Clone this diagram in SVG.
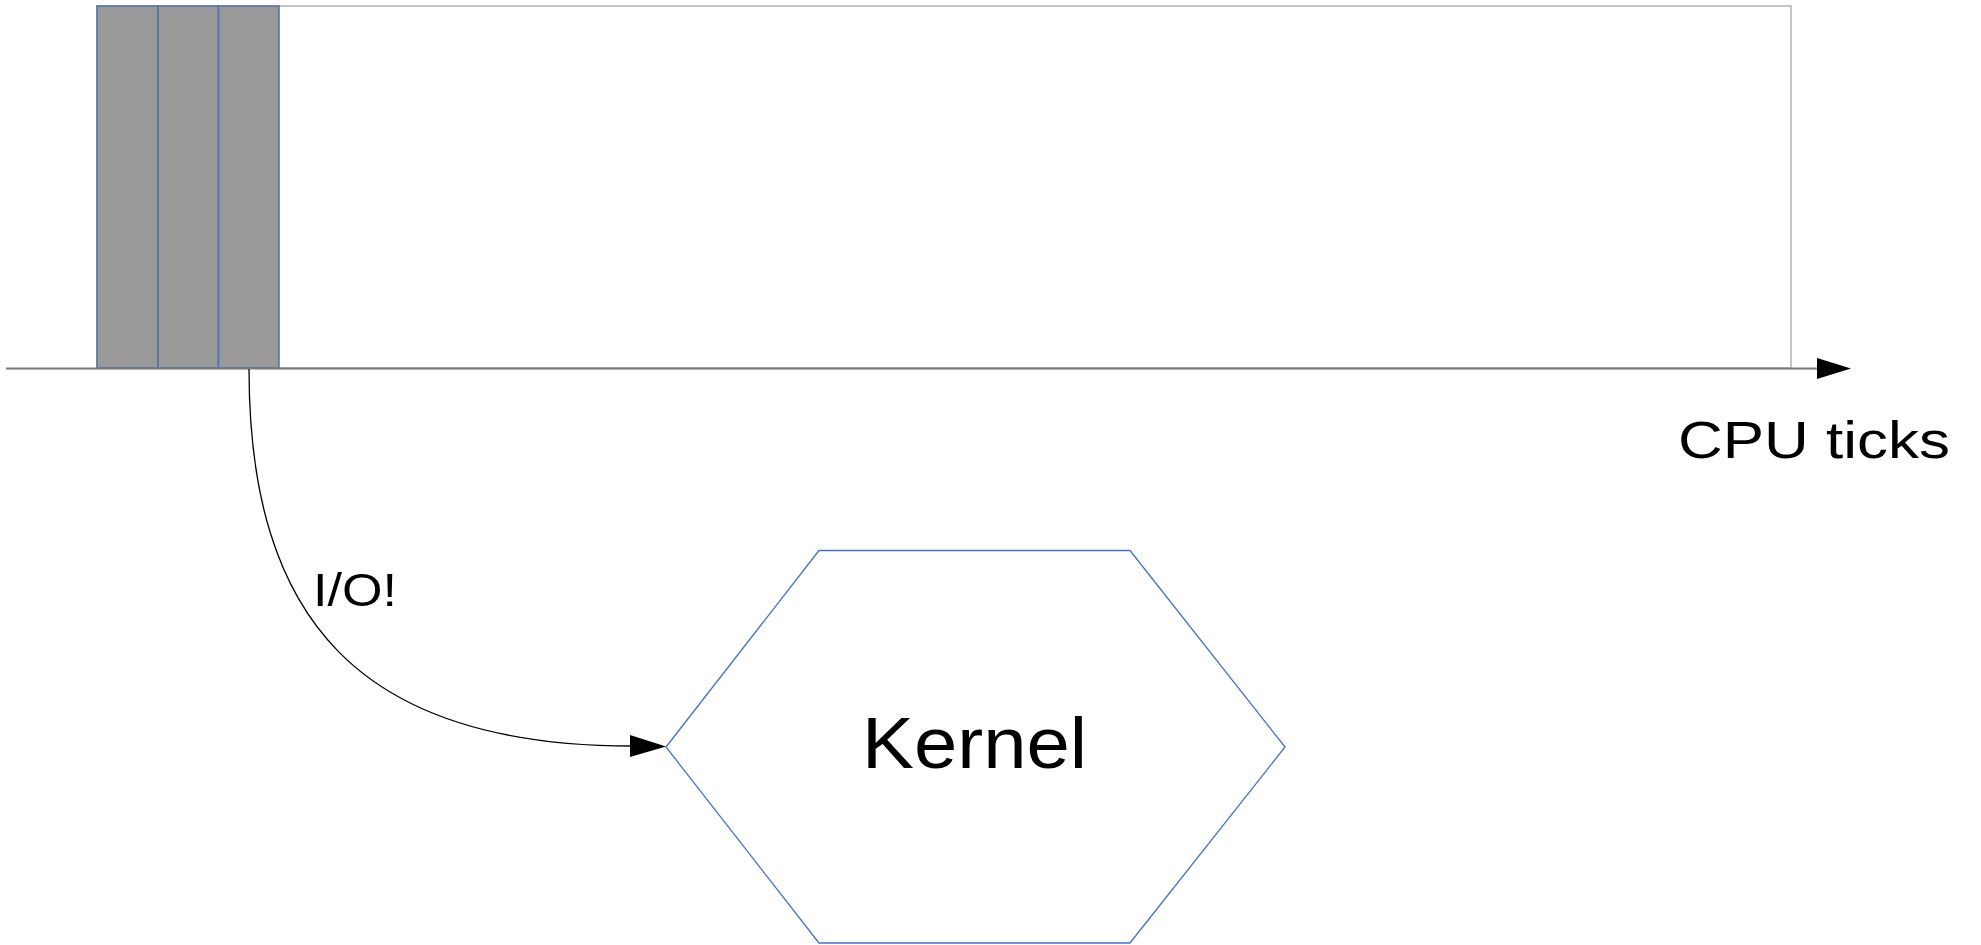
<svg xmlns="http://www.w3.org/2000/svg" width="1981" height="945" viewBox="0 0 1981 945">
<style>
.lbl{font-family:"Liberation Sans","DejaVu Sans",sans-serif;fill:#000}
.blk{fill:#999999;stroke:#4f72aa;stroke-width:1.5}
</style>
<defs>
<marker id="tri" markerWidth="10" markerHeight="10" refX="10" refY="5" orient="auto" markerUnits="userSpaceOnUse" viewBox="0 0 10 10">
<path d="M0,0 L10,5 L0,10 Z" fill="#000"/>
</marker>
</defs>
<rect width="1981" height="945" fill="#fff"/>
<g id="timeline">
<rect x="97" y="6" width="1694" height="362" fill="#fff" stroke="#c4c4c4" stroke-width="2"/>
</g>
<g id="slice1"><rect class="blk" x="97" y="6" width="61" height="362"/></g>
<g id="slice2"><rect class="blk" x="158" y="6" width="60.5" height="362"/></g>
<g id="slice3"><rect class="blk" x="218.5" y="6" width="60.5" height="362"/></g>
<g id="connectors">
<line x1="6" y1="368.5" x2="1818" y2="368.5" stroke="#7a7a7a" stroke-width="2"/>
<path d="M1817,358 L1851,368.5 L1817,379 Z" fill="#000"/>
<path d="M249,369 C249,620 360,746 632,746" fill="none" stroke="#000" stroke-width="1.3"/>
<path d="M630,735 L666,746.5 L630,757 Z" fill="#000"/>
</g>
<g id="kernel">
<polygon points="666,747 819,550.5 1130,550.5 1285,747 1130,943 819,943" fill="#fff" stroke="#4472c4" stroke-width="1.3"/>
<text class="lbl" x="862" y="768" font-size="72" textLength="225" lengthAdjust="spacingAndGlyphs">Kernel</text>
</g>
<g id="labels">
<text class="lbl" x="1678" y="458" font-size="52" textLength="272" lengthAdjust="spacingAndGlyphs">CPU ticks</text>
<text class="lbl" x="313" y="606" font-size="46" textLength="84" lengthAdjust="spacingAndGlyphs">I/O!</text>
</g>
</svg>
